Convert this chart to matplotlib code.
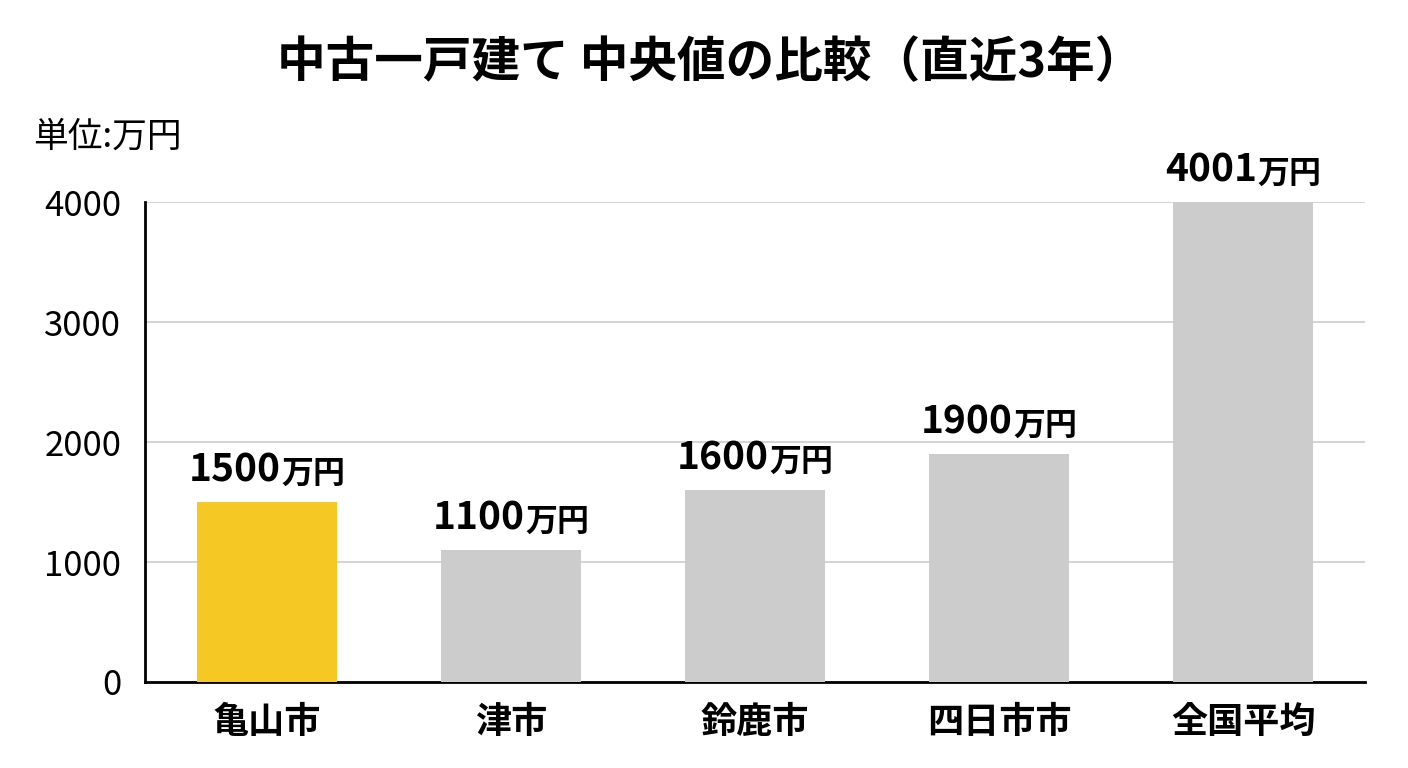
import matplotlib
matplotlib.use("Agg")
import matplotlib.pyplot as plt

plt.rcParams["font.family"] = ["Noto Sans CJK JP", "DejaVu Sans"]

categories = ["亀山市", "津市", "鈴鹿市", "四日市市", "全国平均"]
values = [1500, 1100, 1600, 1900, 4001]
y_ticks = [0, 1000, 2000, 3000, 4000]

highlight = "#F5C823"
base = "#CCCCCC"
colors = [highlight] + [base] * (len(categories) - 1)

fig = plt.figure(figsize=(14.08, 7.68), dpi=100)
ax = fig.add_axes([0.103, 0.112, 0.8665, 0.625])

x = list(range(len(categories)))
ax.bar(x, values, width=0.575, color=colors, zorder=3)

ax.set_xlim(-0.5, len(categories) - 0.5)
ax.set_ylim(0, 4001)
ax.set_yticks(y_ticks)
ax.set_yticklabels([str(t) for t in y_ticks], fontsize=25)
ax.set_xticks(x)
ax.set_xticklabels(categories, fontsize=26, fontweight="bold")
ax.tick_params(axis="y", length=0, pad=17)
ax.tick_params(axis="x", length=0, pad=16)

ax.grid(axis="y", color="#CCCCCC", linewidth=1.2, zorder=0)
ax.spines[["top", "right"]].set_visible(False)
ax.spines["left"].set_linewidth(2)
ax.spines["bottom"].set_linewidth(2)

# value labels: digits larger than the unit part
fig.canvas.draw()
renderer = fig.canvas.get_renderer()
for xi, v in zip(x, values):
    num = ax.annotate(str(v), (xi, v), xytext=(0, 9), textcoords="offset points",
                      fontsize=28, fontweight="bold", ha="left", va="bottom")
    unit = ax.annotate("万円", (xi, v), xytext=(0, 9), textcoords="offset points",
                       fontsize=23, fontweight="bold", ha="left", va="bottom")
    w_num = num.get_window_extent(renderer).width
    w_unit = unit.get_window_extent(renderer).width
    total = (w_num + w_unit) * 72 / fig.dpi
    num.set_position((-total / 2, 9))
    unit.set_position((-total / 2 + w_num * 72 / fig.dpi, 9))

fig.text(0.5045, 0.918, "中古一戸建て 中央値の比較（直近3年）", fontsize=35,
         fontweight="bold", ha="center", va="center")
fig.text(0.0234, 0.821, "単位:万円", fontsize=25, ha="left", va="center")

fig.savefig("out.png", dpi=100)
